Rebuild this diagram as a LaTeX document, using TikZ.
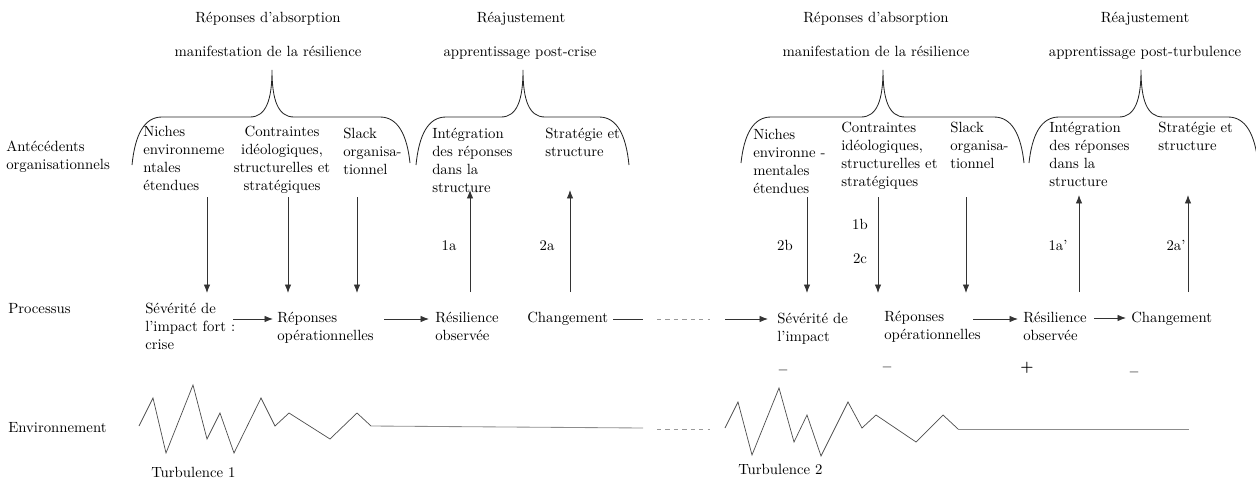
\documentclass[tikz,border=0pt]{standalone}
\usetikzlibrary{arrows.meta}
\begin{document}
\begin{tikzpicture}[x=0.025cm, y=-0.025cm, >={Latex[length=6pt,width=4.6pt]},
        every node/.style={font=\fontsize{10.5}{12.8}\selectfont, inner sep=0pt, text=black},
        txt/.style={anchor=base west},
        ctr/.style={anchor=base},
        blk/.style={align=left, anchor=north west},
        cblk/.style={align=center, anchor=north},
        arr/.style={->, line width=0.6pt, black!80},
        zig/.style={line width=0.5pt, black!70},
        flat/.style={line width=0.6pt, black!45},
        gap/.style={dashed, line width=0.6pt, black!40},
        brace/.style={line width=0.6pt, black!85}]
        \useasboundingbox (0,0) rectangle (1256,480);
        % row labels
        \node[blk] (ante) at (6,141) {Antécédents\\organisationnels};
        \node[txt] (proc) at (8,313) {Processus};
        \node[txt] (envi) at (8,432) {Environnement};
        % headings
        \node[ctr] (abs1) at (268,22) {Réponses d’absorption};
        \node[ctr] (man1) at (268,56) {manifestation de la résilience};
        \node[ctr] (rea1) at (521,22) {Réajustement};
        \node[ctr] (app1) at (520,56) {apprentissage post-crise};
        \node[ctr] (abs2) at (876,22) {Réponses d’absorption};
        \node[ctr] (man2) at (876,56) {manifestation de la résilience};
        \node[ctr] (rea2) at (1145,22) {Réajustement};
        \node[ctr] (app2) at (1145,56) {apprentissage post-turbulence};
        % braces
        \foreach \l/\t/\r/\yl/\yr in {132/272/410/165/163, 416/523/629/165/165,
                741/883/1024/163/163, 1029/1141/1258/163/163}
        \draw[brace] (\l,\yl) .. controls (\l+3,135) and (\l+12,117) .. (\l+30,117)
            -- (\t-22,117) .. controls (\t-6,117) and (\t,100) .. (\t,70)
            .. controls (\t,100) and (\t+6,117) .. (\t+22,117)
            -- (\r-30,117) .. controls (\r-12,117) and (\r-3,135) .. (\r,\yr);
        % antecedents
        \node[blk] (niche1) at (143,126) {Niches\\environneme\\ntales\\étendues};
        \node[cblk] (contr1) at (282,126) {Contraintes\\idéologiques,\\structurelles et\\stratégiques};
        \node[blk] (slack1) at (343,128) {Slack\\organisa-\\tionnel};
        \node[blk] (integ1) at (432,128) {Intégration\\des réponses\\dans la\\structure};
        \node[blk] (strat1) at (545,128) {Stratégie et\\structure};
        \node[blk] (niche2) at (753,129) {Niches\\environne -\\mentales\\étendues};
        \node[blk] (contr2) at (841,122) {Contraintes\\idéologiques,\\structurelles et\\stratégiques};
        \node[blk] (slack2) at (950,122) {Slack\\organisa-\\tionnel};
        \node[blk] (integ2) at (1049,122) {Intégration\\des réponses\\dans la\\structure};
        \node[blk] (strat2) at (1158,122) {Stratégie et\\structure};
        % process
        \node[blk] (sev1) at (145,303) {Sévérité de\\l’impact fort :\\crise};
        \node[blk] (rep1) at (277,312) {Réponses\\opérationnelles};
        \node[blk] (res1) at (435,312) {Résilience\\observée};
        \node[txt] (chg1) at (527,322) {Changement};
        \node[blk] (sev2) at (777,313) {Sévérité de\\l’impact};
        \node[blk] (rep2) at (884,311) {Réponses\\opérationnelles};
        \node[blk] (res2) at (1023,312) {Résilience\\observée};
        \node[txt] (chg2) at (1131,322) {Changement};
        % link labels and signs
        \node[ctr] (l1a) at (449,250) {1a};
        \node[ctr] (l2a) at (547,250) {2a};
        \node[ctr] (l2b) at (785,250) {2b};
        \node[ctr] (l1b) at (860,229) {1b};
        \node[ctr] (l2c) at (860,263) {2c};
        \node[ctr] (l1a') at (1058,250) {1a’};
        \node[ctr] (l2a') at (1176,250) {2a’};
        \node[ctr] (sg1) at (783,374) {\textbf{–}};
        \node[ctr] (sg2) at (887,371) {\textbf{–}};
        \node[ctr] (sg3) at (1027,371) {\textbf{+}};
        \node[ctr] (sg4) at (1134,376) {\textbf{–}};
        \node[txt] (tur1) at (151,477) {Turbulence 1};
        \node[txt] (tur2) at (738,474) {Turbulence 2};
        % arrow ends
        \foreach \n/\x/\y in {dn1/207/197, dc1/288/197, ds1/357/197, dn2/807/197, dc2/878/197, ds2/966/197,
                pn1/207/293, pc1/288/293, ps1/357/293, pn2/807/293, pc2/878/293, ps2/966/293,
                ur1/470/292, ui1/470/190, uc1/570/292, us1/570/190,
                ur2/1079/292, ui2/1079/195, uc2/1188/292, us2/1188/195,
                h1a/233/319, h1b/273/319, h2a/384/319, h2b/429/319,
                h3a/725/319, h3b/768/319, h4a/973/319, h4b/1018/319,
                h5a/1094/318, h5b/1126/318, c1a/613/319, c1b/643/319}
        \coordinate (\n) at (\x,\y);
        \draw[arr] (dn1) -- (pn1);
        \draw[arr] (dc1) -- (pc1);
        \draw[arr] (ds1) -- (ps1);
        \draw[arr] (dn2) -- (pn2);
        \draw[arr] (dc2) -- (pc2);
        \draw[arr] (ds2) -- (ps2);
        \draw[arr] (ur1) -- (ui1);
        \draw[arr] (uc1) -- (us1);
        \draw[arr] (ur2) -- (ui2);
        \draw[arr] (uc2) -- (us2);
        \draw[arr] (h1a) -- (h1b);
        \draw[arr] (h2a) -- (h2b);
        \draw[arr] (h3a) -- (h3b);
        \draw[arr] (h4a) -- (h4b);
        \draw[arr] (h5a) -- (h5b);
        \draw[line width=0.6pt, black!80] (c1a) -- (c1b);
        \draw[gap] (657,319) -- (710,319);
        % environment
        \draw[zig] (139,426) -- (153,398) -- (166,453) -- (193,385) -- (207,439) -- (220,413)
            -- (234,453) -- (261,398) -- (275,426) -- (289,413) -- (330,439) -- (357,413) -- (371,426);
        \draw[flat] (371,426) -- (643,428);
        \draw[gap] (657,429) -- (710,429);
        \draw[zig] (725,428) -- (738,402) -- (752,455) -- (779,388) -- (794,442) -- (807,415)
            -- (821,456) -- (848,402) -- (862,428) -- (876,415) -- (916,442) -- (943,415) -- (958,429);
        \draw[flat] (958,429) -- (1189,429);
\end{tikzpicture}
\end{document}
